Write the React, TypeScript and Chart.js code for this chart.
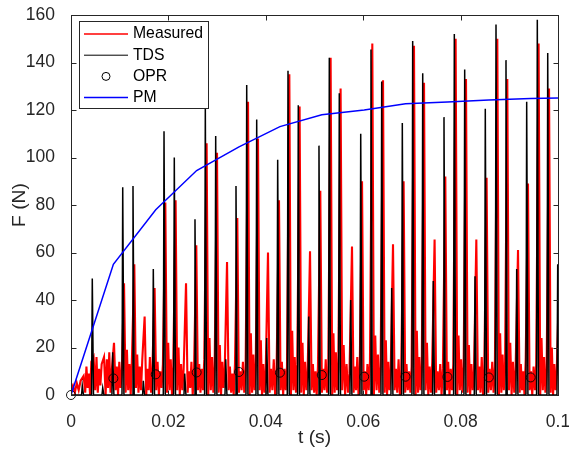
import { useEffect, useRef } from "react";
import { Chart, registerables } from "chart.js";

Chart.register(...registerables);

const FONT = "'Liberation Sans', Arial, Helvetica, sans-serif";
const AXIS_COLOR = "#262626";

// Tooth-passing instants (s) of the spike train
const spikeTimes = [
  0.00232, 0.00437, 0.00651, 0.00856, 0.01062, 0.01273, 0.01485, 0.0169, 0.0191, 0.02121,
  0.02335, 0.02546, 0.02758, 0.02971, 0.03177, 0.03388, 0.03608, 0.03813, 0.04018, 0.04244,
  0.04456, 0.04667, 0.04881, 0.05092, 0.05304, 0.05509, 0.05743, 0.05949, 0.0616, 0.0638,
  0.06585, 0.06803, 0.07016, 0.07222, 0.07439, 0.07659, 0.07871, 0.08084, 0.08296, 0.08507,
  0.08727, 0.08932, 0.09152, 0.09357, 0.09575, 0.09789, 0.09994,
];

// TDS model peak force (N) at each spike
const tdsPeaks = [
  4, 49, 3, 18, 87.5, 88, 6, 53, 111, 100,
  9, 74, 121, 109, 15, 88, 130.5, 116, 24, 99,
  136.5, 122, 33, 105, 142, 127, 40, 110, 145.5, 132,
  45, 114.5, 149, 135.5, 48, 117, 152, 137, 50, 120.5,
  156, 141, 53, 123.5, 158, 144, 55,
];

// Measured peak force (N) at each spike
const measuredPeaks = [
  8, 16, 16, 22, 47, 55, 33, 45, 81, 82,
  47, 63, 106, 102, 56, 74.5, 123.5, 108, 60, 82,
  135, 121.5, 60.5, 86, 142, 129, 62.5, 90, 148, 132.5,
  63.5, 90, 147, 131.5, 65.5, 92, 150, 133, 65.5, 91.5,
  150, 133, 61, 89, 148, 129, 46,
];

// Measured force samples (N) between spikes, six per gap (gap g precedes spike g)
const measuredNoise = [
  2, 4, 1, 5, 2, 6,
  1, 12, 3, 9, 0, 14,
  2, 16, 1, 11, 4, 13,
  0, 15, 3, 18, 1, 10,
  2, 12, 0, 14, 3, 9,
  1, 19, 2, 13, 0, 16,
  3, 17, 1, 12, 2, 15,
  0, 11, 2, 16, 1, 10,
  2, 14, 0, 10, 3, 13,
  1, 22, 2, 15, 0, 12,
  2, 20, 0, 13, 2, 11,
  1, 10, 3, 14, 0, 9,
  2, 13, 1, 11, 2, 15,
  0, 24, 2, 16, 1, 12,
  1, 21, 0, 14, 3, 11,
  2, 12, 1, 9, 0, 13,
  1, 10, 2, 14, 1, 11,
  0, 26, 1, 17, 2, 12,
  2, 23, 0, 13, 1, 10,
  1, 11, 2, 15, 0, 9,
  2, 14, 0, 11, 2, 12,
  0, 27, 2, 16, 1, 13,
  1, 22, 0, 14, 2, 10,
  2, 13, 1, 10, 0, 12,
  1, 11, 2, 15, 1, 10,
  0, 26, 1, 18, 2, 11,
  2, 21, 0, 13, 1, 9,
  1, 12, 2, 16, 0, 11,
  2, 10, 0, 13, 2, 14,
  0, 25, 2, 17, 1, 12,
  1, 23, 0, 14, 2, 10,
  2, 11, 1, 15, 0, 9,
  1, 13, 2, 10, 1, 12,
  0, 27, 1, 16, 2, 11,
  2, 22, 0, 12, 1, 14,
  1, 10, 2, 13, 0, 11,
  2, 14, 0, 11, 2, 13,
  0, 25, 2, 15, 1, 12,
  1, 21, 0, 13, 2, 10,
  2, 12, 1, 16, 0, 9,
  1, 11, 2, 14, 1, 12,
  0, 26, 1, 17, 2, 10,
  2, 22, 0, 14, 1, 11,
  1, 13, 2, 10, 0, 15,
  2, 10, 0, 12, 2, 13,
  0, 24, 2, 16, 1, 11,
  1, 20, 0, 13, 2, 10,
];
const NOISE_PER_GAP = 6;

// OPR: one value per revolution
const oprTimes = [0, 0.0087, 0.0174, 0.0258, 0.0345, 0.0429, 0.0515, 0.0602, 0.0687, 0.0773, 0.0858, 0.0944];
const oprValues = [0, 7.0, 8.7, 9.5, 9.7, 9.4, 8.4, 7.7, 7.7, 7.6, 7.4, 7.4];

// PM: peak mean curve
const pmTimes = [0, 0.0087, 0.0174, 0.0258, 0.0345, 0.0429, 0.0515, 0.0602, 0.0687, 0.0773, 0.0858, 0.0944, 0.1];
const pmValues = [0, 55, 78, 94.5, 104.5, 113, 118, 120, 122.6, 123.4, 124.2, 124.8, 125.1];

const xTicks = [0, 0.02, 0.04, 0.06, 0.08, 0.1];
const xTickLabels = ["0", "0.02", "0.04", "0.06", "0.08", "0.1"];
const yTicks = [0, 20, 40, 60, 80, 100, 120, 140, 160];

type Pt = { x: number; y: number };

function buildTds(): Pt[] {
  const pts: Pt[] = [{ x: 0, y: 0 }];
  spikeTimes.forEach((t, k) => {
    pts.push({ x: t - 0.00015, y: 0 }, { x: t, y: tdsPeaks[k] }, { x: t + 0.00025, y: 0 });
  });
  return pts;
}

function buildMeasured(): Pt[] {
  const pts: Pt[] = [];
  spikeTimes.forEach((t, k) => {
    const start = k === 0 ? 0 : spikeTimes[k - 1] + 0.0006;
    const end = t + 0.00005;
    for (let i = 0; i < NOISE_PER_GAP; i++) {
      pts.push({ x: start + ((end - start) * i) / NOISE_PER_GAP, y: measuredNoise[k * NOISE_PER_GAP + i] });
    }
    pts.push({ x: t + 0.00027, y: measuredPeaks[k] });
  });
  return pts;
}

const legendItems = [
  { label: "Measured", color: "#ff0000", kind: "line", width: 1.5 },
  { label: "TDS", color: "#000000", kind: "line", width: 1 },
  { label: "OPR", color: "#000000", kind: "circle", width: 1 },
  { label: "PM", color: "#0000ff", kind: "line", width: 1.5 },
];

const framePlugin = {
  id: "matlabFrame",
  afterDatasetsDraw(chart: any) {
    const { ctx, chartArea, scales } = chart;
    const { left, right, top, bottom } = chartArea;
    const xs = scales.x;
    const ys = scales.y;
    ctx.save();
    ctx.strokeStyle = AXIS_COLOR;
    ctx.lineWidth = 1;
    ctx.strokeRect(left + 0.5, top + 0.5, right - left, bottom - top);
    ctx.beginPath();
    const tl = 5;
    xTicks.forEach((v) => {
      const px = Math.round(xs.getPixelForValue(v)) + 0.5;
      ctx.moveTo(px, bottom + 0.5);
      ctx.lineTo(px, bottom + 0.5 - tl);
      ctx.moveTo(px, top + 0.5);
      ctx.lineTo(px, top + 0.5 + tl);
    });
    yTicks.forEach((v) => {
      const py = Math.round(ys.getPixelForValue(v)) + 0.5;
      ctx.moveTo(left + 0.5, py);
      ctx.lineTo(left + 0.5 + tl, py);
      ctx.moveTo(right + 0.5, py);
      ctx.lineTo(right + 0.5 - tl, py);
    });
    ctx.stroke();

    // Legend box in the upper-left corner
    const bx = 79.5, by = 21.5, bw = 129, bh = 87;
    ctx.fillStyle = "#ffffff";
    ctx.fillRect(bx, by, bw, bh);
    ctx.strokeStyle = AXIS_COLOR;
    ctx.strokeRect(bx, by, bw, bh);
    ctx.font = `15.75px ${FONT}`;
    ctx.textBaseline = "middle";
    ctx.textAlign = "left";
    legendItems.forEach((it, i) => {
      const cy = 34 + i * 21.2;
      if (it.kind === "line") {
        ctx.strokeStyle = it.color;
        ctx.lineWidth = it.width;
        ctx.beginPath();
        ctx.moveTo(84, cy);
        ctx.lineTo(128, cy);
        ctx.stroke();
      } else {
        ctx.strokeStyle = it.color;
        ctx.lineWidth = 1;
        ctx.beginPath();
        ctx.arc(106, cy, 4, 0, Math.PI * 2);
        ctx.stroke();
      }
      ctx.fillStyle = "#000000";
      ctx.fillText(it.label, 133, cy);
    });
    ctx.restore();
  },
};

export default function App() {
  const ref = useRef<HTMLCanvasElement>(null);

  useEffect(() => {
    const canvas = ref.current;
    if (!canvas) return;
    const tickFont = { family: FONT, size: 17.5 };
    const titleFont = { family: FONT, size: 19.25 };
    const chart = new Chart(canvas, {
      type: "scatter",
      data: {
        datasets: [
          {
            label: "Measured",
            data: buildMeasured(),
            showLine: true,
            borderColor: "#ff0000",
            borderWidth: 2.1,
            pointRadius: 0,
            order: 4,
          },
          {
            label: "TDS",
            data: buildTds(),
            showLine: true,
            borderColor: "#000000",
            borderWidth: 1.5,
            pointRadius: 0,
            order: 3,
          },
          {
            label: "OPR",
            data: oprTimes.map((t, i) => ({ x: t, y: oprValues[i] })),
            showLine: false,
            pointRadius: 4.5,
            pointStyle: "circle",
            pointBorderColor: "#000000",
            pointBackgroundColor: "rgba(0,0,0,0)",
            pointBorderWidth: 0.9,
            clip: false,
            order: 2,
          },
          {
            label: "PM",
            data: pmTimes.map((t, i) => ({ x: t, y: pmValues[i] })),
            showLine: true,
            borderColor: "#0000ff",
            borderWidth: 1.5,
            pointRadius: 0,
            order: 1,
          },
        ] as any,
      },
      options: {
        responsive: false,
        animation: false,
        devicePixelRatio: 1,
        layout: { padding: { left: 0, right: 11, top: 15, bottom: 0 } },
        elements: { line: { tension: 0 } },
        plugins: { legend: { display: false }, tooltip: { enabled: false } },
        scales: {
          x: {
            type: "linear",
            min: 0,
            max: 0.1,
            grid: { display: false },
            border: { display: false },
            afterBuildTicks: (s: any) => {
              s.ticks = xTicks.map((v) => ({ value: v }));
            },
            ticks: {
              callback: (v: any) => xTickLabels[xTicks.indexOf(Number(v))] ?? "",
              font: tickFont,
              color: AXIS_COLOR,
              padding: 9,
              maxRotation: 0,
              autoSkip: false,
            },
            title: { display: true, text: "t (s)", font: titleFont, color: AXIS_COLOR, padding: { top: 0, bottom: 2 } },
            afterFit: (s: any) => {
              s.height = 56;
              s.paddingLeft = 0;
              s.paddingRight = 0;
            },
          },
          y: {
            type: "linear",
            min: 0,
            max: 160,
            grid: { display: false },
            border: { display: false },
            afterBuildTicks: (s: any) => {
              s.ticks = yTicks.map((v) => ({ value: v }));
            },
            ticks: { font: tickFont, color: AXIS_COLOR, padding: 8 },
            title: { display: true, text: "F (N)", font: titleFont, color: AXIS_COLOR, padding: { top: 8.5, bottom: 0 } },
            afterFit: (s: any) => {
              s.width = 71;
              s.paddingTop = 0;
              s.paddingBottom = 0;
            },
          },
        },
      } as any,
      plugins: [framePlugin],
    });
    return () => chart.destroy();
  }, []);

  return (
    <div style={{ position: "fixed", left: 0, top: 0, width: 569, height: 451, background: "#ffffff" }}>
      <canvas ref={ref} width={569} height={451} style={{ display: "block" }} />
    </div>
  );
}
